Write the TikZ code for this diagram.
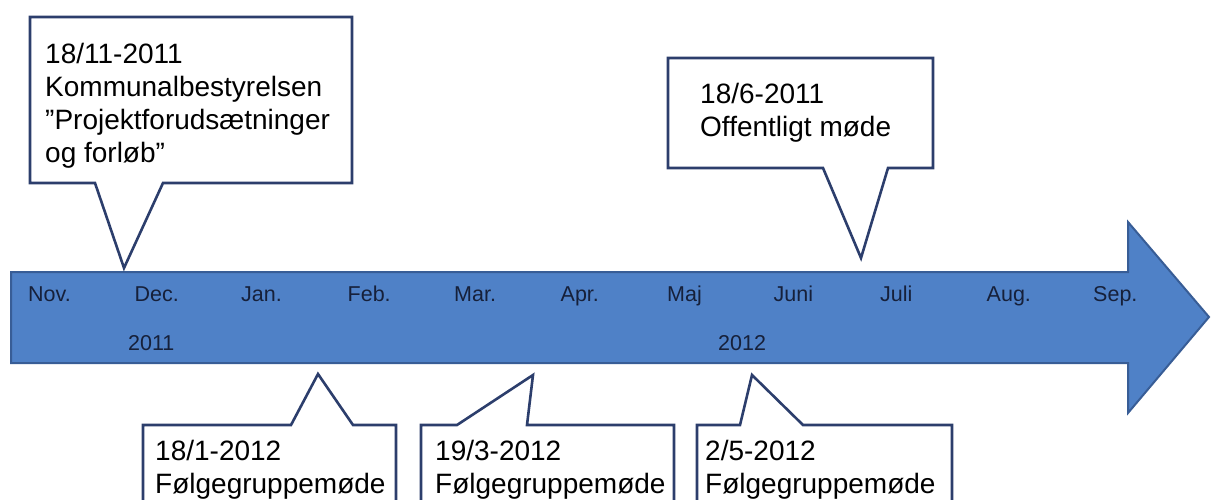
\documentclass[tikz,border=0pt]{standalone}
\usepackage{fontspec}
\setmainfont{Liberation Sans}
\usepackage{tikz}

\definecolor{pilfyld}{RGB}{79,129,199}
\definecolor{pilkant}{RGB}{56,93,150}
\definecolor{boblekant}{RGB}{44,62,108}
\definecolor{maanedtekst}{RGB}{22,32,58}

\begin{document}
\begin{tikzpicture}[x=1pt,y=-1pt,
  boble/.style={draw=boblekant, line width=2.6pt, fill=white, line join=miter},
  bobletekst/.style={anchor=north west, inner sep=0pt, align=left,
    font=\fontsize{28}{33}\selectfont},
  maaned/.style={anchor=base west, inner sep=0pt, text=maanedtekst,
    font=\fontsize{21.5}{24}\selectfont}]
\useasboundingbox (0,0) rectangle (1211,500);
\clip (0,0) rectangle (1211,500);

% tidslinjen
\coordinate (start) at (11,272);
\coordinate (spids) at (1209,317);
\draw[fill=pilfyld, draw=pilkant, line width=2pt, line join=miter]
  (start) -- (1128,272) -- (1128,222) -- (spids) -- (1128,413)
  -- (1128,363) -- (11,363) -- cycle;

\foreach \m [count=\i from 0] in {Nov.,Dec.,Jan.,Feb.,Mar.,Apr.,Maj,Juni,Juli,Aug.,Sep.}
  \node[maaned] (m\i) at (28+106.5*\i,301) {\m};
\node[maaned] (aar1) at (128,350) {2011};
\node[maaned] (aar2) at (718,350) {2012};

% punkter paa tidslinjen
\coordinate (t1) at (124,268);
\coordinate (t2) at (861,258);
\coordinate (t3) at (318,374);
\coordinate (t4) at (533,375);
\coordinate (t5) at (752,375);

% bobler over linjen
\draw[boble] (30,17) -- (352,17) -- (352,183) -- (163,183) -- (t1)
  -- (95,183) -- (30,183) -- cycle;
\draw[boble] (668,58) -- (933,58) -- (933,168) -- (888,168) -- (t2)
  -- (823,168) -- (668,168) -- cycle;

% bobler under linjen
\draw[boble] (143,520) -- (143,425) -- (291,425) -- (t3) -- (353,425)
  -- (396,425) -- (396,520);
\draw[boble] (421,520) -- (421,425) -- (457,425) -- (t4) -- (527,425)
  -- (674,425) -- (674,520);
\draw[boble] (697,520) -- (697,425) -- (740,425) -- (t5) -- (803,425)
  -- (952,425) -- (952,520);

\node[bobletekst] (k1) at (45,43)
  {18/11-2011\\Kommunalbestyrelsen\\”Projektforudsætninger\\og forløb”};
\node[bobletekst] (k2) at (700,83) {18/6-2011\\Offentligt møde};
\node[bobletekst] (k3) at (155,440) {18/1-2012\\Følgegruppemøde};
\node[bobletekst] (k4) at (435,440) {19/3-2012\\Følgegruppemøde};
\node[bobletekst] (k5) at (705,440) {2/5-2012\\Følgegruppemøde};
\end{tikzpicture}
\end{document}
